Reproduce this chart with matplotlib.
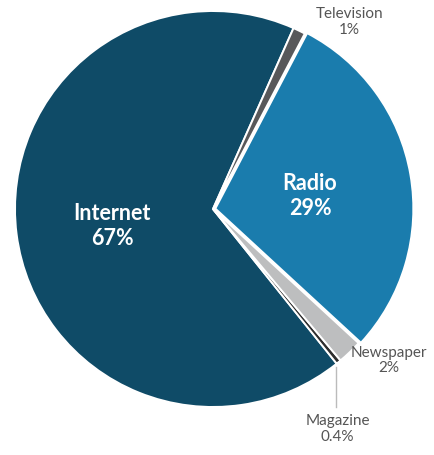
import matplotlib.pyplot as plt

# media share data
labels = ['Internet', 'Magazine', 'Newspaper', 'Radio', 'Television']
shares = [67, 0.4, 2, 29, 1]
colors = ['#0f4b67', '#2e2e2e', '#bdbebf', '#1a7cad', '#58585a']
explode = [0, 0, 0, 0.012, 0]

plt.rcParams['font.family'] = ['Lato', 'DejaVu Sans']

fig = plt.figure(figsize=(4.34, 4.56), dpi=100)
# square axes, 396 px wide, centred on the pie
ax = fig.add_axes([15 / 434, 48 / 456, 396 / 434, 396 / 456])

wedges, _ = ax.pie(shares, colors=colors, explode=explode, startangle=66,
                   counterclock=True, radius=1,
                   wedgeprops=dict(edgecolor='white', linewidth=1.4))

ax.set_xlim(-1, 1)
ax.set_ylim(-1, 1)
ax.set_aspect('equal')
ax.axis('off')

# labels inside the two big slices
ax.text(-0.51, -0.08, 'Internet\n67%', color='white', fontsize=15.5,
        fontweight='bold', ha='center', va='center', linespacing=1.25)
ax.text(0.49, 0.07, 'Radio\n29%', color='white', fontsize=15.5,
        fontweight='bold', ha='center', va='center', linespacing=1.25)

# labels for the small slices
grey = '#555555'
ax.text(0.69, 0.95, 'Television\n1%', color=grey, fontsize=11,
        ha='center', va='center', linespacing=1.15, clip_on=False)
ax.text(0.89, -0.76, 'Newspaper\n2%', color=grey, fontsize=11,
        ha='center', va='center', linespacing=1.15, clip_on=False)
ax.text(0.63, -1.03, 'Magazine\n0.4%', color=grey, fontsize=11,
        ha='center', va='top', linespacing=1.15, clip_on=False)
ax.plot([0.62, 0.62], [-0.8, -1.0], color='#bbbbbb', lw=1, clip_on=False)

fig.savefig('out.png', dpi=100)
